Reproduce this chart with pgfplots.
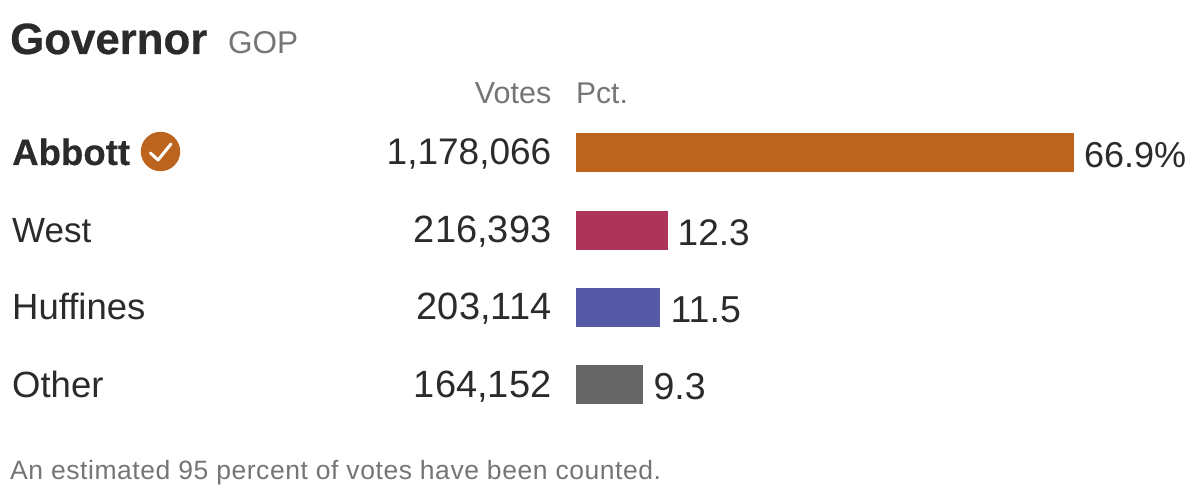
\documentclass[border=0pt]{standalone}
\usepackage{pgfplots}
\pgfplotsset{compat=1.18}
\usepackage{fontspec}
\setmainfont{Liberation Sans}
\definecolor{cA}{HTML}{BC631D}
\definecolor{cW}{HTML}{AD3559}
\definecolor{cH}{HTML}{5659A5}
\definecolor{cO}{HTML}{666666}
\definecolor{tx}{HTML}{2B2B2B}
\definecolor{gy}{HTML}{757575}
\newcommand{\fs}[1]{\fontsize{#1pt}{#1pt}\selectfont}
\begin{document}
\begin{tikzpicture}[x=1pt,y=1pt]
\path (0,0) rectangle (1200,501);
\begin{axis}[
  at={(0pt,0pt)},anchor=south west,
  width=1200pt,height=501pt,scale only axis,
  xmin=-77.38,xmax=83.83,ymin=0,ymax=501,y dir=reverse,
  axis lines=none,clip=false,
  xbar,bar width=39pt,bar shift=0pt,
  nodes near coords style={text=tx,anchor=base west,inner sep=0pt,xshift=10pt,yshift=-15pt},
  ]
\addplot[fill=cA,draw=none,nodes near coords={\fs{36}66.9\%}] coordinates {(66.9,152.5)};
\addplot[fill=cW,draw=none,nodes near coords={\fs{37}12.3}] coordinates {(12.3,230)};
\addplot[fill=cH,draw=none,nodes near coords={\fs{37.5}11.5}] coordinates {(11.35,307.5)};
\addplot[fill=cO,draw=none,nodes near coords={\fs{37.5}9.3}] coordinates {(9.05,384.5)};
\end{axis}
\begin{scope}[every node/.style={inner sep=0pt,text=tx}]
\node[anchor=base west,font=\fs{43.8}\bfseries\addfontfeature{FakeBold=0.5}] at (10,501-54) {Governor};
\node[anchor=base west,font=\fs{31.5},text=gy] at (228,501-54) {GOP};
\node[anchor=base east,font=\fs{30.5},text=gy] at (551.5,501-104) {Votes};
\node[anchor=base west,font=\fs{30},text=gy] at (576,501-104) {Pct.};
\node[anchor=base west,font=\fs{36.6}\bfseries\addfontfeature{FakeBold=0.4}] at (12,501-165) {Abbott};
\node[anchor=base west,font=\fs{35}] at (12,501-243) {West};
\node[anchor=base west,font=\fs{36.5}] at (12,501-320) {Huffines};
\node[anchor=base west,font=\fs{36.5}] at (12,501-398) {Other};
\node[anchor=base east,font=\fs{37}] at (551.5,501-165) {1,178,066};
\node[anchor=base east,font=\fs{38}] at (551.5,501-243) {216,393};
\node[anchor=base east,font=\fs{38}] at (551.5,501-320) {203,114};
\node[anchor=base east,font=\fs{38}] at (551.5,501-398) {164,152};
\node[anchor=base west,font=\fs{26.5}\addfontfeature{LetterSpace=2.1},text=gy] at (10,501-479) {An estimated 95 percent of votes have been counted.};
\end{scope}
\fill[cA] (160.5,501-151.5) circle (19.7);
\draw[white,line width=3pt,line cap=round,line join=round] (150.5,501-153) -- (158,501-160) -- (171,501-144);
\end{tikzpicture}
\end{document}
